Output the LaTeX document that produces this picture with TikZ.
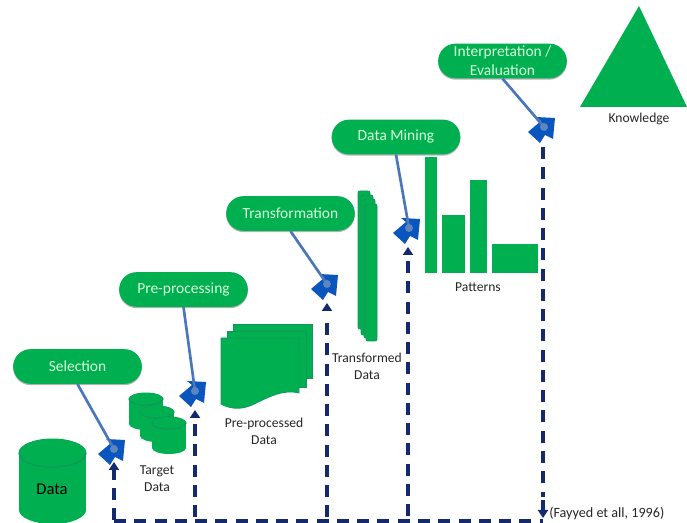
\documentclass[tikz,border=0pt]{standalone}
\usepackage{fontspec}
\setmainfont{Carlito}
\usetikzlibrary{arrows.meta,shapes.geometric,shapes.misc,calc}
\definecolor{kgreen}{HTML}{00AF50}
\definecolor{kedge}{HTML}{12965A}
\definecolor{kblue}{HTML}{0A55BE}
\definecolor{kline}{HTML}{4A77B8}
\definecolor{kdash}{HTML}{14296E}
\definecolor{kdot}{HTML}{5C86BE}
\tikzset{
  pill/.style={rounded rectangle,fill=kgreen,text=white!85!green,minimum width=96.5pt,minimum height=26pt,inner sep=0pt,font=\fontsize{11.6}{14}\selectfont,align=center,
    preaction={fill=black!30,transform canvas={yshift=-1pt}}},
  lab/.style={text=black!85,font=\fontsize{10.2}{12.8}\selectfont,align=center,inner sep=0pt},
  feed/.style={draw=kline,line width=2pt},
  route/.style={draw=kdash,line width=2.6pt,dash pattern=on 9pt off 6.2pt},
  tiphead/.style={draw=kdash,line width=2.6pt,-{Triangle[length=6pt,width=7.5pt]}},
  layer/.style={fill=kgreen,draw=kedge,line width=.6pt},
  page/.style={fill=kgreen,draw=kedge,line width=.6pt},
  pics/marker/.style={code={
    \fill[kblue] (11,-9) -- (-8,-10) -- (-3,-6) -- (-16,5) -- (-4,16) -- (1,8) -- (9,12) -- cycle;
  }},
}
\newcommand{\kcyl}[5]{% left, right, top, bottom, ry
  \fill[kgreen] ({(#1+#2)/2},#4) ellipse [x radius={(#2-#1)/2},y radius=#5];
  \fill[kgreen] (#1,#3) rectangle (#2,#4);
  \draw[kedge,line width=.7pt] ({(#1+#2)/2},#3) ellipse [x radius={(#2-#1)/2},y radius=#5];
  \fill[kgreen] ({(#1+#2)/2},#3) ellipse [x radius={(#2-#1)/2},y radius=#5];
  \draw[kedge,line width=.7pt] (#1,#3) arc[x radius={(#2-#1)/2},y radius=#5,start angle=180,end angle=0];
}
\begin{document}
\begin{tikzpicture}[x=0.75pt,y=-0.75pt]
\useasboundingbox (0,0) rectangle (687,523);
\begin{scope}
\clip (0,0) rectangle (687,523);
% data store
\kcyl{19}{86}{453}{510}{14}
\kcyl{129}{163}{399}{424}{6}
\kcyl{140}{174}{412}{436}{6}
\kcyl{152}{186}{423}{448}{6}
% preprocessed pages
\fill[page] (233,324) rectangle (312,378);
\fill[page] (227,331) rectangle (306,387);
\fill[page] (221,338) -- (299,338) -- (299,393) .. controls (283,389) and (269,397) .. (252,405) .. controls (241,410) and (230,409) .. (221,404) -- cycle;
% transformed stack
\fill[layer,rounded corners=1.5pt] (358,191) rectangle (370,329);
\fill[layer,rounded corners=1.5pt] (361,195) rectangle (373,335);
\fill[layer,rounded corners=1.5pt] (364,199) rectangle (375,338);
\fill[layer,rounded corners=1.5pt] (366,204) rectangle (377,341);
% bars
\fill[kgreen] (425,157) rectangle (437,273);
\fill[kgreen] (442,215) rectangle (465,273);
\fill[kgreen] (470,180) rectangle (487,273);
\fill[kgreen] (492,244) rectangle (538,273);
% triangle
\fill[kgreen] (639,6) -- (580,107) -- (687,107) -- cycle;
\end{scope}
% process pills
\node[pill] (sel) at (77.5,366.5) {Selection};
\node[pill] (pre) at (183.5,289.5) {Pre-processing};
\node[pill] (tra) at (290.5,213.5) {Transformation};
\node[pill] (min) at (396,137) {Data Mining};
\node[pill,font=\fontsize{11.6}{14.2}\selectfont] (int) at (502.5,61) {Interpretation /\\Evaluation};
% markers
\coordinate (m1) at (114,449);
\coordinate (m2) at (195,391);
\coordinate (m3) at (327,284);
\coordinate (m4) at (409,228);
\coordinate (m5) at (544,127);
\foreach \m in {m1,m2,m3,m4,m5} \pic at (\m) {marker};
\draw[feed] (sel.south) -- (m1);
\draw[feed] (pre.south) -- (m2);
\draw[feed] (tra.south) -- (m3);
\draw[feed] (min.south) -- (m4);
\draw[feed] (int.south) -- (m5);
\fill[kdot] (m1) circle (3pt) (m2) circle (3pt) (m3) circle (3pt) (m4) circle (3pt) (m5) circle (3pt);
% dashed route
\coordinate (r0) at (114,521);
\coordinate (r1) at (195,521);
\coordinate (r2) at (327,521);
\coordinate (r3) at (408,521);
\coordinate (r4) at (543,521);
\coordinate (u1) at (114,462);
\coordinate (u2) at (195,410);
\coordinate (u3) at (327,303);
\coordinate (u4) at (408,247);
\coordinate (u5) at (543,147);
\draw[route] (r0) -- (r4);
\draw[route] ($(u1)+(0,26)$) -- (r0);
\draw[route] ($(u2)+(0,14)$) -- (r1);
\draw[route] ($(u3)+(0,20)$) -- (r2);
\draw[route] ($(u4)+(0,14)$) -- (r3);
\draw[route] (u5) -- ($(r4)+(0,-24)$);
\draw[tiphead] ($(u1)+(0,18)$) -- (u1);
\draw[tiphead] ($(u2)+(0,8)$) -- (u2);
\draw[tiphead] ($(u3)+(0,8)$) -- (u3);
\draw[tiphead] ($(u4)+(0,8)$) -- (u4);
\draw[tiphead] ($(r4)+(0,-21)$) -- ($(r4)+(0,-3)$);
% labels
\node[lab,text=black,font=\fontsize{12.4}{14}\selectfont] (l0) at (52,489) {Data};
\node[lab] (l1) at (157,478.5) {Target\\Data};
\node[lab] (l2) at (264,431) {Pre-processed\\Data};
\node[lab] (l3) at (367,366) {Transformed\\Data};
\node[lab] (l4) at (478,287) {Patterns};
\node[lab] (l5) at (639,119) {Knowledge};
\node[lab,anchor=west,font=\fontsize{10.6}{12.8}\selectfont] (l6) at (549,513) {(Fayyed et all, 1996)};
\end{tikzpicture}
\end{document}
